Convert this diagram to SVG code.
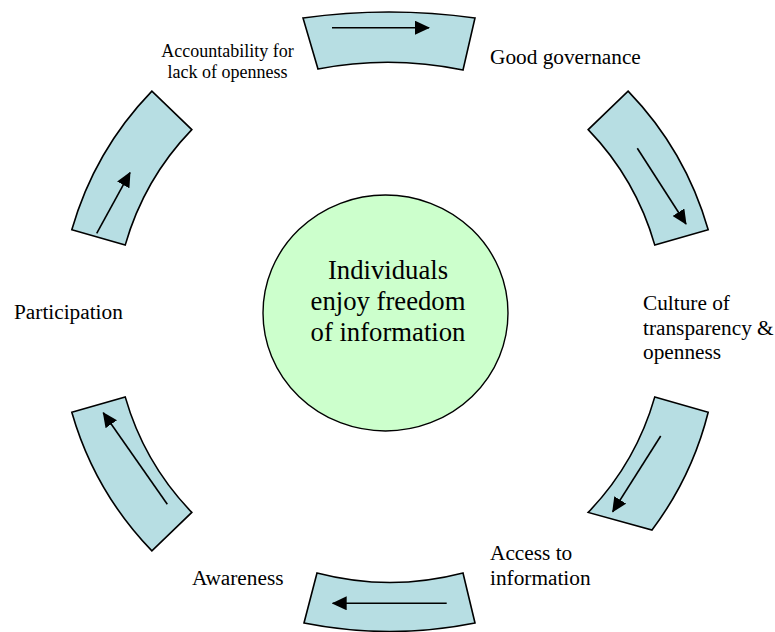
<svg xmlns="http://www.w3.org/2000/svg" width="775" height="632" viewBox="0 0 775 632">
<style>
.seg{fill:#B7DEE3;stroke:#000;stroke-width:1.6;stroke-linejoin:miter}
.hub{fill:#CCFFCC;stroke:#000;stroke-width:1.4}
.arr{stroke:#000;stroke-width:1.6;fill:none;marker-end:url(#ah)}
.lbl{font-family:"Liberation Serif","Times New Roman",serif;font-size:21.3px;fill:#000}
.sm{font-size:18px}
.ctr{font-family:"Liberation Serif","Times New Roman",serif;font-size:26.7px;fill:#000;text-anchor:middle}
</style>
<defs>
<marker id="ah" markerUnits="userSpaceOnUse" markerWidth="15" markerHeight="14" refX="14" refY="7" orient="auto" viewBox="0 0 15 14">
<path d="M0,0 L15,7 L0,14 Z" fill="#000"/>
</marker>
</defs>
<rect width="775" height="632" fill="#fff"/>
<g id="seg-top"><path class="seg" d="M303,18 Q389,6 475,18 L463,70 Q390,55 318,69 Z"/></g>
<g id="seg-right-top"><path class="seg" d="M628.1,91.1 A331,331 0 0,1 708.2,229.8 L654.8,245.1 A275.5,275.5 0 0,0 588.2,129.6 Z"/></g>
<g id="seg-right-bottom"><path class="seg" d="M654.8,396.9 L708.2,412.2 A331,331 0 0,1 652,530 L588.2,512.4 A275.5,275.5 0 0,0 654.8,396.9 Z"/></g>
<g id="seg-bottom"><path class="seg" d="M317,573 Q390,592 463,573 L475,623 Q390,640 304,623 Z"/></g>
<g id="seg-left-bottom"><path class="seg" d="M71.8,412.2 L125.2,396.9 A275.5,275.5 0 0,0 191.8,512.4 L151.9,550.9 A331,331 0 0,1 71.8,412.2 Z"/></g>
<g id="seg-left-top"><path class="seg" d="M151.9,91.1 A331,331 0 0,0 71.8,229.8 L125.2,245.1 A275.5,275.5 0 0,1 191.8,129.6 Z"/></g>
<g id="connectors">
<line class="arr" x1="332" y1="27.7" x2="429" y2="27.7"/>
<line class="arr" x1="637.3" y1="148.3" x2="686" y2="224"/>
<line class="arr" x1="660.7" y1="436" x2="612.7" y2="511.7"/>
<line class="arr" x1="446.7" y1="603.3" x2="332.7" y2="603.3"/>
<line class="arr" x1="167.3" y1="504.3" x2="103.3" y2="412.7"/>
<line class="arr" x1="96.7" y1="233.3" x2="130" y2="172.7"/>
</g>
<g id="hub">
<ellipse class="hub" cx="385.5" cy="313" rx="122.5" ry="118"/>
<text class="ctr"><tspan x="388" y="279">Individuals</tspan><tspan x="388" y="310">enjoy freedom</tspan><tspan x="388" y="341">of information</tspan></text>
</g>
<g id="label-governance"><text class="lbl" x="490" y="64">Good governance</text></g>
<g id="label-culture"><text class="lbl"><tspan x="643" y="310">Culture of</tspan><tspan x="643" y="334.5">transparency &amp;</tspan><tspan x="643" y="359">openness</tspan></text></g>
<g id="label-access"><text class="lbl"><tspan x="490" y="560">Access to</tspan><tspan x="490" y="585">information</tspan></text></g>
<g id="label-awareness"><text class="lbl" x="192" y="585">Awareness</text></g>
<g id="label-participation"><text class="lbl" x="14" y="319">Participation</text></g>
<g id="label-accountability"><text class="lbl sm" text-anchor="middle"><tspan x="227.5" y="57">Accountability for</tspan><tspan x="227.5" y="78">lack of openness</tspan></text></g>
</svg>
